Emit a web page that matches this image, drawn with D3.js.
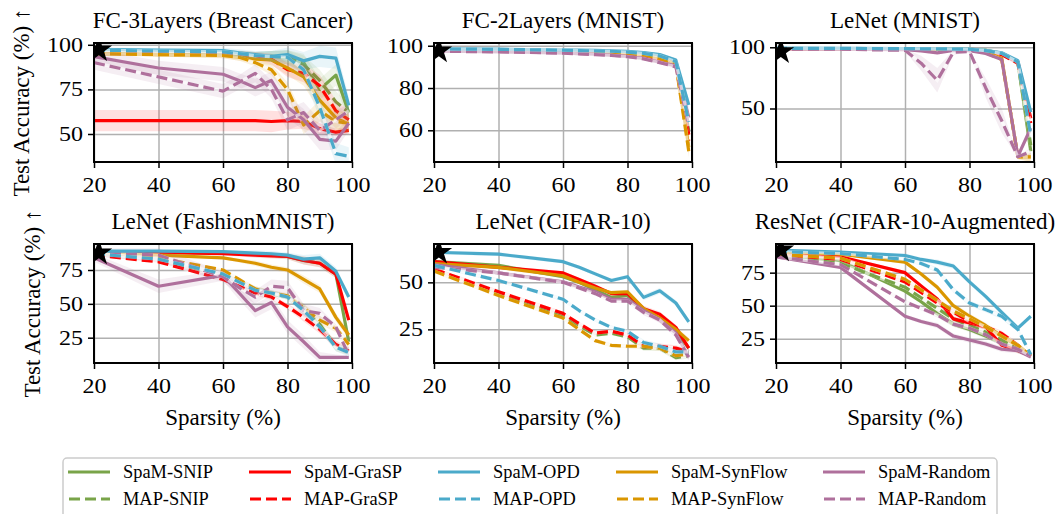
<!DOCTYPE html>
<html>
<head>
<meta charset="utf-8">
<script src="https://cdn.jsdelivr.net/npm/d3@7"></script>
<style>
  body { margin: 0; background: #fff; }
</style>
</head>
<body>
<script>
var W = 1063, H = 514;

// sparsity levels (%) shared by every panel
var sparsity = [20, 40, 60, 65, 70, 75, 80, 85, 90, 95, 99];

// row order of the accuracy tables (also the drawing order)
var seriesNames = ['SpaM-SNIP', 'MAP-SNIP', 'SpaM-GraSP', 'MAP-GraSP', 'SpaM-SynFlow', 'MAP-SynFlow',
                   'SpaM-Random', 'MAP-Random', 'SpaM-OPD', 'MAP-OPD'];
var legendOrder = ['SpaM-SNIP', 'MAP-SNIP', 'SpaM-GraSP', 'MAP-GraSP', 'SpaM-OPD', 'MAP-OPD',
                   'SpaM-SynFlow', 'MAP-SynFlow', 'SpaM-Random', 'MAP-Random'];
var colors = {SNIP: '#79a449', GraSP: '#ff0000', OPD: '#4baaca', SynFlow: '#da9600', Random: '#af709c'};

var titles = ['FC-3Layers (Breast Cancer)', 'FC-2Layers (MNIST)', 'LeNet (MNIST)',
              'LeNet (FashionMNIST)', 'LeNet (CIFAR-10)', 'ResNet (CIFAR-10-Augmented)'];
var yDomains = [[34.3, 101], [45, 101.3], [6.3, 103.5], [6.3, 94.2], [7.1, 70.4], [6.6, 96.7]];
var yTicks = [[50, 75, 100], [60, 80, 100], [50, 100], [25, 50, 75], [25, 50], [25, 50, 75]];
var xTicks = [20, 40, 60, 80, 100];

// dense model accuracy (star marker)
var denseSparsity = 21.5;
var denseAcc = [97.2, 97.6, 96.5, 87.6, 66, 92.2];

// test accuracy, rows follow seriesNames
var accFC3 = [
  [96, 95.5, 95, 94.5, 94, 93.5, 93, 90, 75, 83, 62],
  [96, 95.5, 95, 94.5, 94, 93.5, 93, 89, 80, 68, 62],
  [57.5, 57.5, 57.5, 57.5, 57.5, 57, 57.5, 57, 53, 51, 52],
  [96, 95.5, 95, 94.5, 94, 92, 86, 84, 77, 63, 58],
  [95, 94.5, 94, 93, 92, 91.5, 87, 82, 69, 59, 55.5],
  [95, 94.5, 94, 93, 90, 86, 75, 55, 63, 57, 56],
  [93.4, 87, 83.5, 80, 76, 80, 65, 58, 47, 46, 56],
  [90, 82, 74, 79, 84, 75, 58, 62, 52, 58, 63],
  [97.5, 97, 96.8, 95.5, 94.5, 93.5, 94.5, 91, 93.5, 92.5, 66],
  [97, 96.5, 96, 95, 94, 93.5, 93, 86, 65, 39, 37.5]
];
var accFC2 = [
  [98.3, 98, 97.6, 97.4, 97.2, 97, 96.6, 96, 94.5, 92, 60],
  [98.3, 98, 97.5, 97.3, 97.1, 96.8, 96.3, 95.5, 94, 91.5, 57],
  [98.2, 97.9, 97.5, 97.3, 97.1, 96.8, 96.3, 95.5, 94, 91.5, 58],
  [98.2, 97.9, 97.4, 97.2, 97, 96.7, 96.2, 95.3, 93.8, 91.3, 55],
  [98.3, 98, 97.5, 97.3, 97.1, 96.9, 96.5, 95.8, 94.3, 91.5, 52],
  [98.3, 98, 97.5, 97.3, 97.1, 96.9, 96.4, 95.6, 94, 91, 50],
  [97.5, 97.2, 96.6, 96.3, 96, 95.6, 95, 94, 92.2, 90.5, 66],
  [97.4, 97.1, 96.5, 96.2, 95.8, 95.4, 94.8, 93.8, 92, 90, 62],
  [98.6, 98.4, 98, 97.9, 97.8, 97.6, 97.3, 96.8, 95.8, 93.2, 72],
  [98.5, 98.3, 97.9, 97.7, 97.6, 97.4, 97, 96.4, 95.2, 92.5, 64]
];
var accLeNetMNIST = [
  [99, 99, 98.8, 98.7, 98.6, 98.5, 98.3, 97.5, 95, 88, 15],
  [99, 99, 98.8, 98.7, 98.6, 98.5, 98.3, 97.5, 94.5, 87, 20],
  [98.5, 98.5, 98.4, 98.3, 98.2, 98, 97.8, 97, 94, 88, 42],
  [98.5, 98.5, 98.4, 98.3, 98.2, 98, 97.8, 97, 94, 87, 38],
  [99, 98.9, 98.7, 98.6, 98.5, 98.3, 98, 96, 91, 10.5, 10.5],
  [99, 98.9, 98.7, 98.6, 98.5, 98.3, 98, 95.5, 90, 10.5, 10.5],
  [98.6, 98.4, 98, 97, 95.5, 97.5, 97.3, 95, 90, 11, 34],
  [98.6, 98.4, 97.5, 87, 73, 96, 96.5, 67, 40, 10.5, 15],
  [99.3, 99.2, 99, 98.9, 98.8, 98.7, 98.5, 97.5, 95.5, 89, 47],
  [99.2, 99.1, 98.9, 98.8, 98.7, 98.6, 98.4, 97.3, 95, 88, 28]
];
var accFashion = [
  [88, 88, 87.5, 87, 86.5, 86, 85, 82, 80, 72, 22],
  [87, 82, 72, 67, 61, 58, 55, 47, 35, 18, 15],
  [88, 88, 87, 86.5, 86, 85.5, 85, 82, 80, 72, 38],
  [86, 81, 68, 63, 58, 55, 48, 40, 31, 20, 15],
  [87, 86, 84, 82, 80, 77, 75, 68, 61, 40, 27],
  [87, 84, 75, 68, 61, 58, 56, 47, 38, 32, 20],
  [84, 63, 71, 58, 45, 51, 33, 22, 10.5, 10.5, 10.5],
  [88, 86, 70, 62, 55, 63, 62, 45, 43, 33, 12],
  [89, 89, 88.5, 88, 87.5, 87, 86, 83, 84, 74, 55],
  [87, 83, 72, 66, 60, 58, 55, 45, 33, 18, 14]
];
var accCIFAR = [
  [61, 59, 53, 50, 46, 42, 43, 35, 31, 24, 15],
  [57, 44, 32, 27, 22, 23, 21, 15, 15, 10, 11],
  [61, 58, 55, 51.5, 48, 44, 44, 36, 33, 26, 15],
  [57, 45, 33.5, 28, 23, 24, 22, 16, 16, 15, 13],
  [60, 58, 53.5, 50, 47, 44.5, 45, 36, 31, 25, 19],
  [56, 43, 31, 25, 19, 16.5, 16, 16, 15, 11, 12],
  [59.5, 55, 50.3, 47.5, 45, 41, 41, 35, 30, 23, 10],
  [58, 55, 50, 47, 44, 40, 40, 34, 30, 22, 10],
  [66, 65, 61, 58, 54.5, 51, 53, 42, 45.5, 39, 29],
  [59, 51, 41, 35, 30, 26, 24, 18, 16, 13, 13]
];
var accResNet = [
  [88, 84, 61, 53, 44, 36, 32, 27, 22, 16, 12],
  [88, 82, 64, 56, 48, 40, 35, 30, 24, 17, 12],
  [90, 87, 75, 65, 55, 40, 37, 34, 20, 16, 12],
  [89, 85, 68, 60, 52, 45, 38, 34, 29, 20, 12],
  [91, 89, 83, 74, 64, 50, 42, 35, 27, 20, 12],
  [89, 86, 70, 62, 54, 46, 40, 34, 27, 20, 12],
  [87, 79, 42, 38, 35, 27, 24, 21, 17, 16, 11],
  [87, 81, 53, 48, 43, 36, 33, 28, 21, 17, 12],
  [92, 90.5, 88, 85, 83, 80, 68, 57, 45, 33, 42],
  [91, 89.5, 85, 82, 77, 62, 52, 47, 42, 32, 13]
];
var accAll = [accFC3, accFC2, accLeNetMNIST, accFashion, accCIFAR, accResNet];

// std bands: a default per panel, plus series that stand out
var stdDefault = [
  [1, 1, 1.5, 2, 2, 3, 4, 5, 6, 6, 5],
  [0.3, 0.3, 0.3, 0.3, 0.3, 0.4, 0.5, 0.6, 0.8, 1, 3],
  [0.2, 0.2, 0.2, 0.2, 0.3, 0.3, 0.4, 0.5, 1, 2, 4],
  [0.5, 0.8, 1, 1.5, 2, 2, 2, 3, 3, 3, 3],
  [1, 1, 1, 1, 1, 1, 1, 1.5, 1.5, 1.5, 1.5],
  [1, 1, 1.5, 1.5, 2, 2, 2, 2, 2, 2, 1]
];
var stdFC3GraSP = [6, 6, 6, 6, 6, 6, 5, 4, 3, 2, 2];
var stdFC3Random = [4, 4, 4, 4, 5, 5, 6, 6, 6, 5, 4];
var stdMNISTRandom = [0.5, 0.5, 1, 6, 10, 2, 1, 8, 10, 1, 3];
var stdFashionRandom = [3, 5, 4, 5, 5, 5, 5, 5, 4, 2, 1];
var stdOverrides = [
  {'SpaM-GraSP': stdFC3GraSP, 'SpaM-Random': stdFC3Random, 'MAP-Random': stdFC3Random},
  {},
  {'MAP-Random': stdMNISTRandom},
  {'SpaM-Random': stdFashionRandom, 'MAP-Random': stdFashionRandom},
  {},
  {}
];

var svg = d3.select('body').append('svg')
    .attr('width', W).attr('height', H)
    .style('font-family', '"Liberation Serif", "Times New Roman", serif');

var panelLeft = [94, 434, 776], panelTop = [43, 244];
var pw = 258, ph = 119;
var tickStretch = 1.2;

function colorOf(name) { return colors[name.split('-')[1]]; }
function isDashed(name) { return name.indexOf('MAP') === 0; }

accAll.forEach(function(acc, i) {
  var col = i % 3, row = Math.floor(i / 3);
  var left = panelLeft[col], top = panelTop[row];
  var x = d3.scaleLinear().domain([20, 100]).range([left, left + pw]);
  var y = d3.scaleLinear().domain(yDomains[i]).range([top + ph, top]);

  svg.append('clipPath').attr('id', 'clip' + i)
    .append('rect').attr('x', left).attr('y', top).attr('width', pw).attr('height', ph);

  // grid
  var gx = svg.append('g').attr('transform', 'translate(0,' + (top + ph) + ')')
    .call(d3.axisBottom(x).tickValues(xTicks).tickSize(-ph).tickFormat(''));
  var gy = svg.append('g').attr('transform', 'translate(' + left + ',0)')
    .call(d3.axisLeft(y).tickValues(yTicks[i]).tickSize(-pw).tickFormat(''));
  [gx, gy].forEach(function(g) {
    g.select('.domain').remove();
    g.selectAll('line').attr('stroke', '#b0b0b0').attr('stroke-width', 1.5);
  });

  var plot = svg.append('g').attr('clip-path', 'url(#clip' + i + ')');

  seriesNames.forEach(function(name, r) {
    var vals = acc[r];
    var sd = stdOverrides[i][name] || stdDefault[i];
    var pts = sparsity.map(function(s, k) { return {x: s, y: vals[k], sd: sd[k]}; });
    var c = colorOf(name);

    var area = d3.area().x(function(d) { return x(d.x); })
      .y0(function(d) { return y(d.y - d.sd); })
      .y1(function(d) { return y(d.y + d.sd); });
    plot.append('path').attr('d', area(pts)).attr('fill', c).attr('fill-opacity', 0.12);

    var line = d3.line().x(function(d) { return x(d.x); }).y(function(d) { return y(d.y); });
    if (isDashed(name)) {
      plot.append('path').attr('d', line(pts)).attr('fill', 'none')
        .attr('stroke', '#fff').attr('stroke-opacity', 0.6).attr('stroke-width', 3.2);
    }
    plot.append('path').attr('d', line(pts))
      .attr('fill', 'none').attr('stroke', c).attr('stroke-width', 3.2)
      .attr('stroke-linejoin', 'round')
      .attr('stroke-dasharray', isDashed(name) ? '11,5' : null);
  });

  // dense baseline star
  plot.append('path')
    .attr('d', d3.symbol().type(d3.symbolStar).size(220)())
    .attr('transform', 'translate(' + x(denseSparsity) + ',' + y(denseAcc[i]) + ')')
    .attr('fill', '#000');

  // frame
  svg.append('rect').attr('x', left).attr('y', top).attr('width', pw).attr('height', ph)
    .attr('fill', 'none').attr('stroke', '#000').attr('stroke-width', 2);

  // axes with tick labels
  var ax = svg.append('g').attr('transform', 'translate(0,' + (top + ph) + ')')
    .call(d3.axisBottom(x).tickValues(xTicks).tickSize(6).tickPadding(10));
  var ay = svg.append('g').attr('transform', 'translate(' + left + ',0)')
    .call(d3.axisLeft(y).tickValues(yTicks[i]).tickSize(6).tickPadding(5));
  [ax, ay].forEach(function(g) {
    g.select('.domain').remove();
    g.selectAll('line').attr('stroke', '#000').attr('stroke-width', 1.5);
    g.selectAll('text').attr('fill', '#000').style('font-size', '20px')
      .style('font-family', '"Liberation Serif", serif')
      .attr('transform', 'scale(' + tickStretch + ',1)');
  });
  ay.selectAll('text').attr('x', -11 / tickStretch);

  svg.append('text').attr('x', left + pw / 2).attr('y', top - 15)
    .attr('text-anchor', 'middle').style('font-size', '23px').text(titles[i]);

  if (row === 1) {
    svg.append('text').attr('x', left + pw / 2).attr('y', 425)
      .attr('text-anchor', 'middle').style('font-size', '23px').text('Sparsity (%)');
  }
  if (col === 0) {
    var bx = row === 0 ? 29 : 40;
    svg.append('text')
      .attr('transform', 'translate(' + bx + ',' + (top + ph / 2) + ') rotate(-90)')
      .attr('text-anchor', 'middle').style('font-size', '23px').text('Test Accuracy (%) \u2191');
  }
});

// legend
var leg = svg.append('g');
leg.append('rect').attr('x', 63).attr('y', 458).attr('width', 934).attr('height', 70)
  .attr('rx', 4).attr('fill', '#fff').attr('stroke', '#cccccc').attr('stroke-width', 1.5);
var legCols = [68, 249, 438, 616, 823], legRows = [472, 499];
legendOrder.forEach(function(name, k) {
  var cx = legCols[Math.floor(k / 2)], cy = legRows[k % 2];
  leg.append('line').attr('x1', cx).attr('x2', cx + 42).attr('y1', cy).attr('y2', cy)
    .attr('stroke', colorOf(name)).attr('stroke-width', 3.2)
    .attr('stroke-dasharray', isDashed(name) ? '11,5' : null)
    .attr('stroke-dashoffset', isDashed(name) ? -1 : null);
  leg.append('text').attr('x', cx + 55).attr('y', cy + 6).style('font-size', '18.4px').text(name);
});
</script>
</body>
</html>
